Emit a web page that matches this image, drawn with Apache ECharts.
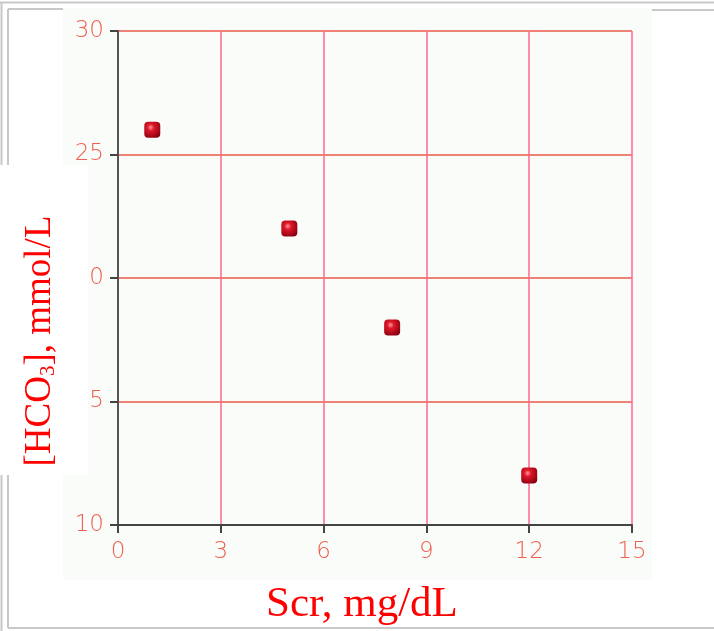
<!DOCTYPE html>
<html>
<head>
<meta charset="utf-8">
<script src="https://cdn.jsdelivr.net/npm/echarts@6/dist/echarts.min.js"></script>
<style>
  html, body { margin: 0; padding: 0; background: #fff; }
  #chart { width: 714px; height: 631px; }
</style>
</head>
<body>
<div id="chart"></div>
<script>
  // 散点数据
  var scrValues = [1, 5, 8, 12];
  var hco3Values = [26, 22, 18, 12];
  var xTicks = [0, 3, 6, 9, 12, 15];
  var yTicks = [10, 15, 20, 25, 30];

  var points = scrValues.map(function (v, i) { return [v, hco3Values[i]]; });

  var myChart = echarts.init(document.getElementById('chart'));
  var frame = '#c8c8c8';
  var option = {
    backgroundColor: '#ffffff',
    animation: false,
    grid: { left: 118, top: 31, width: 514, height: 496 },
    graphic: [
      // 外框
      { type: 'line', shape: { x1: 0, y1: 2.5, x2: 714, y2: 2.5 }, style: { stroke: frame, lineWidth: 2 }, z: 1 },
      { type: 'line', shape: { x1: 1.5, y1: 2, x2: 1.5, y2: 631 }, style: { stroke: frame, lineWidth: 2 }, z: 1 },
      { type: 'line', shape: { x1: 8, y1: 9, x2: 8, y2: 628 }, style: { stroke: frame, lineWidth: 2 }, z: 1 },
      { type: 'line', shape: { x1: 8, y1: 9, x2: 63, y2: 9 }, style: { stroke: frame, lineWidth: 2 }, z: 1 },
      { type: 'line', shape: { x1: 652, y1: 10, x2: 714, y2: 10 }, style: { stroke: frame, lineWidth: 2 }, z: 1 },
      { type: 'line', shape: { x1: 8, y1: 628, x2: 714, y2: 628 }, style: { stroke: frame, lineWidth: 2 }, z: 1 },
      // 浅色底板
      { type: 'rect', shape: { x: 63, y: 8, width: 589, height: 572 }, style: { fill: '#fafcfa' }, z: -10 },
      // 纵轴标题背景遮挡
      { type: 'rect', shape: { x: 0, y: 165, width: 88, height: 310 }, style: { fill: '#ffffff' }, z: 50 },
      {
        type: 'text', x: 40, y: 341, rotation: Math.PI / 2, z: 51,
        style: {
          text: '[HCO{s|3}], mmol/L',
          align: 'center', verticalAlign: 'middle',
          fill: '#ff0000', fontFamily: 'Liberation Serif', fontSize: 37,
          rich: { s: { fontSize: 21, fill: '#ff0000', fontFamily: 'Liberation Serif', padding: [17, 0, 0, 0] } }
        }
      }
    ],
    xAxis: {
      type: 'value', min: 0, max: 15, interval: 3,
      name: 'Scr, mg/dL', nameLocation: 'middle', nameGap: 58,
      nameTextStyle: { color: '#ff0000', fontFamily: 'Liberation Serif', fontSize: 43, padding: [0, 26, 0, 0] },
      axisLine: { show: true, onZero: false, lineStyle: { color: '#444', width: 2 } },
      axisTick: { show: true, length: 8, lineStyle: { color: '#444', width: 2 } },
      axisLabel: {
        margin: 16, color: '#ee6050', fontSize: 23, fontWeight: 200, fontFamily: 'DejaVu Sans',
        formatter: function (v) { return xTicks.indexOf(v) >= 0 ? String(v) : ''; }
      },
      splitLine: { show: true, lineStyle: { color: '#ff6a8c', width: 1.5 } }
    },
    yAxis: {
      type: 'value', min: 10, max: 30, interval: 5,
      axisLine: { show: true, onZero: false, lineStyle: { color: '#555', width: 2 } },
      axisTick: { show: true, length: 8, lineStyle: { color: '#444', width: 2 } },
      axisLabel: {
        margin: 14, color: '#ee6050', fontSize: 23, fontWeight: 200, fontFamily: 'DejaVu Sans',
        formatter: function (v) { return yTicks.indexOf(v) >= 0 ? String(v) : ''; }
      },
      splitLine: { show: true, lineStyle: { color: '#e85a48', width: 1.5 } }
    },
    series: [{
      type: 'scatter',
      symbol: 'roundRect',
      symbolSize: 16,
      data: points,
      itemStyle: {
        color: new echarts.graphic.RadialGradient(0.4, 0.35, 0.7, [
          { offset: 0, color: '#ff9aa0' },
          { offset: 0.3, color: '#e01828' },
          { offset: 1, color: '#8a0010' }
        ]),
        opacity: 1
      },
      z: 10
    }]
  };
  myChart.setOption(option);
</script>
</body>
</html>
